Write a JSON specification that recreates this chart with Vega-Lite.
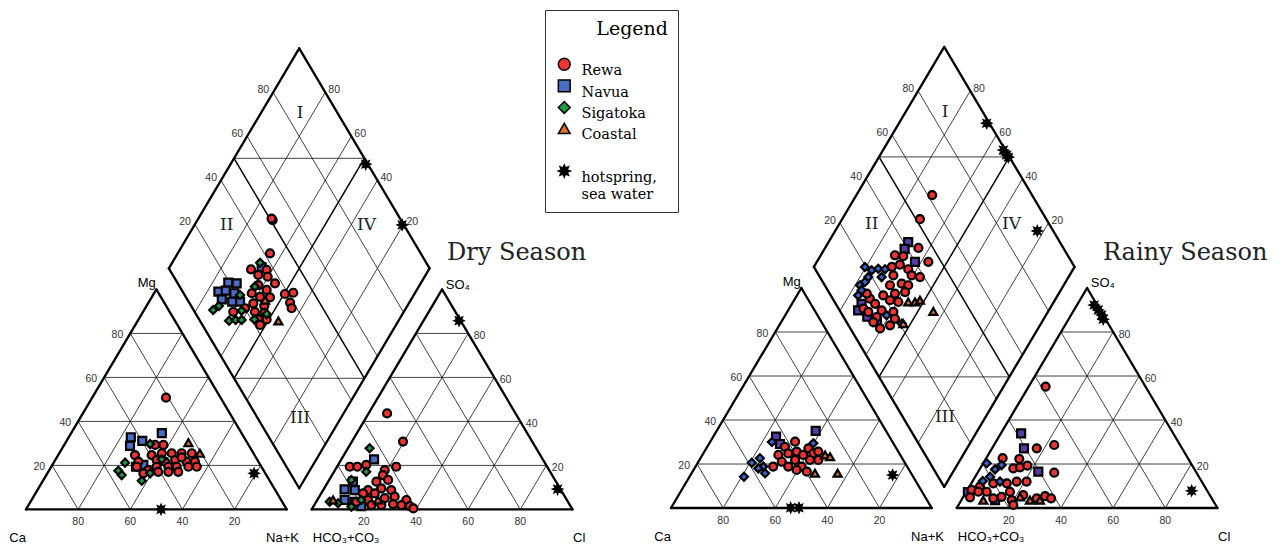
{
  "$schema": "https://vega.github.io/schema/vega-lite/v6.json",
  "width": 1287,
  "height": 548,
  "padding": 0,
  "autosize": {"type": "none"},
  "background": "white",
  "config": {"view": {"stroke": null}, "text": {"font": "Liberation Sans"}},
  "datasets": {
    "frame": [
      {"kind": "outline", "x": 0, "y": 0, "x2": 100, "y2": 0},
      {"kind": "outline", "x": 0, "y": 0, "x2": 50, "y2": 86.603},
      {"kind": "outline", "x": 100, "y": 0, "x2": 50, "y2": 86.603},
      {"kind": "outline", "x": 109.6, "y": 0, "x2": 209.6, "y2": 0},
      {"kind": "outline", "x": 109.6, "y": 0, "x2": 159.6, "y2": 86.603},
      {"kind": "outline", "x": 209.6, "y": 0, "x2": 159.6, "y2": 86.603},
      {"kind": "outline", "x": 104.8, "y": 8.314, "x2": 54.8, "y2": 94.917},
      {"kind": "outline", "x": 104.8, "y": 8.314, "x2": 154.8, "y2": 94.917},
      {"kind": "outline", "x": 54.8, "y": 94.917, "x2": 104.8, "y2": 181.52},
      {"kind": "outline", "x": 154.8, "y": 94.917, "x2": 104.8, "y2": 181.52},
      {"kind": "grid", "x": 10, "y": 17.321, "x2": 90, "y2": 17.321},
      {"kind": "grid", "x": 20, "y": 34.641, "x2": 80, "y2": 34.641},
      {"kind": "grid", "x": 30, "y": 51.962, "x2": 70, "y2": 51.962},
      {"kind": "grid", "x": 40, "y": 69.282, "x2": 60, "y2": 69.282},
      {"kind": "grid", "x": 20, "y": 0, "x2": 60, "y2": 69.282},
      {"kind": "grid", "x": 40, "y": 0, "x2": 70, "y2": 51.962},
      {"kind": "grid", "x": 60, "y": 0, "x2": 80, "y2": 34.641},
      {"kind": "grid", "x": 80, "y": 0, "x2": 90, "y2": 17.321},
      {"kind": "grid", "x": 80, "y": 0, "x2": 40, "y2": 69.282},
      {"kind": "grid", "x": 60, "y": 0, "x2": 30, "y2": 51.962},
      {"kind": "grid", "x": 40, "y": 0, "x2": 20, "y2": 34.641},
      {"kind": "grid", "x": 20, "y": 0, "x2": 10, "y2": 17.321},
      {"kind": "grid", "x": 119.6, "y": 17.321, "x2": 199.6, "y2": 17.321},
      {"kind": "grid", "x": 129.6, "y": 34.641, "x2": 189.6, "y2": 34.641},
      {"kind": "grid", "x": 139.6, "y": 51.962, "x2": 179.6, "y2": 51.962},
      {"kind": "grid", "x": 149.6, "y": 69.282, "x2": 169.6, "y2": 69.282},
      {"kind": "grid", "x": 129.6, "y": 0, "x2": 169.6, "y2": 69.282},
      {"kind": "grid", "x": 149.6, "y": 0, "x2": 179.6, "y2": 51.962},
      {"kind": "grid", "x": 169.6, "y": 0, "x2": 189.6, "y2": 34.641},
      {"kind": "grid", "x": 189.6, "y": 0, "x2": 199.6, "y2": 17.321},
      {"kind": "grid", "x": 189.6, "y": 0, "x2": 149.6, "y2": 69.282},
      {"kind": "grid", "x": 169.6, "y": 0, "x2": 139.6, "y2": 51.962},
      {"kind": "grid", "x": 149.6, "y": 0, "x2": 129.6, "y2": 34.641},
      {"kind": "grid", "x": 129.6, "y": 0, "x2": 119.6, "y2": 17.321},
      {"kind": "grid", "x": 64.8, "y": 77.596, "x2": 114.8, "y2": 164.199},
      {"kind": "grid", "x": 74.8, "y": 60.276, "x2": 124.8, "y2": 146.879},
      {"kind": "grid", "x": 84.8, "y": 42.955, "x2": 134.8, "y2": 129.558},
      {"kind": "grid", "x": 94.8, "y": 25.635, "x2": 144.8, "y2": 112.238},
      {"kind": "grid", "x": 64.8, "y": 112.238, "x2": 114.8, "y2": 25.635},
      {"kind": "grid", "x": 74.8, "y": 129.558, "x2": 124.8, "y2": 42.955},
      {"kind": "grid", "x": 84.8, "y": 146.879, "x2": 134.8, "y2": 60.276},
      {"kind": "grid", "x": 94.8, "y": 164.199, "x2": 144.8, "y2": 77.596},
      {"kind": "grid", "x": 79.8, "y": 138.219, "x2": 129.8, "y2": 138.219},
      {"kind": "grid", "x": 79.8, "y": 51.616, "x2": 129.8, "y2": 51.616},
      {"kind": "mid", "x": 79.8, "y": 51.616, "x2": 129.8, "y2": 138.219},
      {"kind": "mid", "x": 79.8, "y": 138.219, "x2": 129.8, "y2": 51.616}
    ],
    "ticks": [
      {"side": "cl", "x": 10, "y": 17.321, "text": "20"},
      {"side": "cl", "x": 20, "y": 34.641, "text": "40"},
      {"side": "cl", "x": 30, "y": 51.962, "text": "60"},
      {"side": "cl", "x": 40, "y": 69.282, "text": "80"},
      {"side": "b", "x": 20, "y": 0, "text": "80"},
      {"side": "b", "x": 40, "y": 0, "text": "60"},
      {"side": "b", "x": 60, "y": 0, "text": "40"},
      {"side": "b", "x": 80, "y": 0, "text": "20"},
      {"side": "b", "x": 129.6, "y": 0, "text": "20"},
      {"side": "b", "x": 149.6, "y": 0, "text": "40"},
      {"side": "b", "x": 169.6, "y": 0, "text": "60"},
      {"side": "b", "x": 189.6, "y": 0, "text": "80"},
      {"side": "ar", "x": 199.6, "y": 17.321, "text": "20"},
      {"side": "ar", "x": 189.6, "y": 34.641, "text": "40"},
      {"side": "ar", "x": 179.6, "y": 51.962, "text": "60"},
      {"side": "ar", "x": 169.6, "y": 69.282, "text": "80"},
      {"side": "dl", "x": 64.8, "y": 112.238, "text": "20"},
      {"side": "dl", "x": 74.8, "y": 129.558, "text": "40"},
      {"side": "dl", "x": 84.8, "y": 146.879, "text": "60"},
      {"side": "dl", "x": 94.8, "y": 164.199, "text": "80"},
      {"side": "dr", "x": 114.8, "y": 164.199, "text": "80"},
      {"side": "dr", "x": 124.8, "y": 146.879, "text": "60"},
      {"side": "dr", "x": 134.8, "y": 129.558, "text": "40"},
      {"side": "dr", "x": 144.8, "y": 112.238, "text": "20"}
    ],
    "corners": [
      {"anchor": "R", "x": 49.75, "y": 89.0, "text": "Mg"},
      {"anchor": "C", "x": -3.2, "y": -11.3, "text": "Ca"},
      {"anchor": "C", "x": 98.4, "y": -11.3, "text": "Na+K"},
      {"anchor": "L", "x": 110.0, "y": -11.3, "text": "HCO₃+CO₃"},
      {"anchor": "L", "x": 161.0, "y": 88.5, "text": "SO₄"},
      {"anchor": "C", "x": 212.2, "y": -11.3, "text": "Cl"}
    ],
    "zones": [
      {"x": 105.1, "y": 155.9, "text": "I"},
      {"x": 77.0, "y": 112.0, "text": "II"},
      {"x": 130.6, "y": 112.0, "text": "IV"},
      {"x": 105.1, "y": 35.8, "text": "III"}
    ],
    "titles": [
      {"season": "Dry", "x": 161.5, "y": 100.9, "text": "Dry Season"},
      {"season": "Rainy", "x": 165.7, "y": 100.4, "text": "Rainy Season"}
    ],
    "samples": [
      {"season": "Dry", "group": "Navua", "x": 90.4, "y": 95.3},
      {"season": "Dry", "group": "Navua", "x": 77.6, "y": 89.3},
      {"season": "Dry", "group": "Navua", "x": 80.8, "y": 89.0},
      {"season": "Dry", "group": "Navua", "x": 73.8, "y": 85.7},
      {"season": "Dry", "group": "Navua", "x": 76.6, "y": 86.1},
      {"season": "Dry", "group": "Navua", "x": 75.1, "y": 82.7},
      {"season": "Dry", "group": "Navua", "x": 82.1, "y": 81.8},
      {"season": "Dry", "group": "Navua", "x": 79.1, "y": 81.8},
      {"season": "Dry", "group": "Navua", "x": 79.9, "y": 85.1},
      {"season": "Dry", "group": "Navua", "x": 40.2, "y": 28.4},
      {"season": "Dry", "group": "Navua", "x": 44.6, "y": 27.0},
      {"season": "Dry", "group": "Navua", "x": 39.9, "y": 25.0},
      {"season": "Dry", "group": "Navua", "x": 52.1, "y": 30.0},
      {"season": "Dry", "group": "Navua", "x": 45.0, "y": 17.5},
      {"season": "Dry", "group": "Navua", "x": 42.2, "y": 16.8},
      {"season": "Dry", "group": "Navua", "x": 133.5, "y": 19.7},
      {"season": "Dry", "group": "Navua", "x": 122.2, "y": 7.9},
      {"season": "Dry", "group": "Navua", "x": 126.1, "y": 7.6},
      {"season": "Dry", "group": "Navua", "x": 122.2, "y": 3.7},
      {"season": "Dry", "group": "Navua", "x": 126.1, "y": 3.0},
      {"season": "Dry", "group": "Navua", "x": 128.6, "y": 1.3},
      {"season": "Dry", "group": "Navua", "x": 125.4, "y": 10.9},
      {"season": "Dry", "group": "Rewa", "x": 93.6, "y": 100.8},
      {"season": "Dry", "group": "Rewa", "x": 86.3, "y": 94.5},
      {"season": "Dry", "group": "Rewa", "x": 92.3, "y": 94.3},
      {"season": "Dry", "group": "Rewa", "x": 89.1, "y": 92.3},
      {"season": "Dry", "group": "Rewa", "x": 92.7, "y": 91.6},
      {"season": "Dry", "group": "Rewa", "x": 95.5, "y": 89.0},
      {"season": "Dry", "group": "Rewa", "x": 89.1, "y": 88.3},
      {"season": "Dry", "group": "Rewa", "x": 92.3, "y": 86.4},
      {"season": "Dry", "group": "Rewa", "x": 99.3, "y": 84.8},
      {"season": "Dry", "group": "Rewa", "x": 102.5, "y": 85.3},
      {"season": "Dry", "group": "Rewa", "x": 89.8, "y": 83.7},
      {"season": "Dry", "group": "Rewa", "x": 93.6, "y": 83.5},
      {"season": "Dry", "group": "Rewa", "x": 101.3, "y": 81.4},
      {"season": "Dry", "group": "Rewa", "x": 101.9, "y": 79.2},
      {"season": "Dry", "group": "Rewa", "x": 87.2, "y": 81.1},
      {"season": "Dry", "group": "Rewa", "x": 91.4, "y": 80.1},
      {"season": "Dry", "group": "Rewa", "x": 79.5, "y": 77.8},
      {"season": "Dry", "group": "Rewa", "x": 87.8, "y": 77.8},
      {"season": "Dry", "group": "Rewa", "x": 91.4, "y": 77.4},
      {"season": "Dry", "group": "Rewa", "x": 89.1, "y": 74.8},
      {"season": "Dry", "group": "Rewa", "x": 92.3, "y": 74.8},
      {"season": "Dry", "group": "Rewa", "x": 89.8, "y": 72.6},
      {"season": "Dry", "group": "Rewa", "x": 84.0, "y": 79.2},
      {"season": "Dry", "group": "Rewa", "x": 86.6, "y": 85.1},
      {"season": "Dry", "group": "Rewa", "x": 94.6, "y": 113.9},
      {"season": "Dry", "group": "Rewa", "x": 94.2, "y": 114.5},
      {"season": "Dry", "group": "Rewa", "x": 49.5, "y": 25.4},
      {"season": "Dry", "group": "Rewa", "x": 52.7, "y": 25.4},
      {"season": "Dry", "group": "Rewa", "x": 41.8, "y": 21.4},
      {"season": "Dry", "group": "Rewa", "x": 48.2, "y": 21.4},
      {"season": "Dry", "group": "Rewa", "x": 52.1, "y": 22.1},
      {"season": "Dry", "group": "Rewa", "x": 55.9, "y": 22.1},
      {"season": "Dry", "group": "Rewa", "x": 59.7, "y": 22.1},
      {"season": "Dry", "group": "Rewa", "x": 63.6, "y": 22.1},
      {"season": "Dry", "group": "Rewa", "x": 43.1, "y": 18.8},
      {"season": "Dry", "group": "Rewa", "x": 50.1, "y": 19.4},
      {"season": "Dry", "group": "Rewa", "x": 53.3, "y": 18.8},
      {"season": "Dry", "group": "Rewa", "x": 57.2, "y": 19.4},
      {"season": "Dry", "group": "Rewa", "x": 61.6, "y": 18.8},
      {"season": "Dry", "group": "Rewa", "x": 64.8, "y": 18.8},
      {"season": "Dry", "group": "Rewa", "x": 42.5, "y": 16.8},
      {"season": "Dry", "group": "Rewa", "x": 50.1, "y": 16.8},
      {"season": "Dry", "group": "Rewa", "x": 54.6, "y": 16.8},
      {"season": "Dry", "group": "Rewa", "x": 57.8, "y": 16.8},
      {"season": "Dry", "group": "Rewa", "x": 62.3, "y": 16.8},
      {"season": "Dry", "group": "Rewa", "x": 65.5, "y": 16.8},
      {"season": "Dry", "group": "Rewa", "x": 46.9, "y": 15.5},
      {"season": "Dry", "group": "Rewa", "x": 50.7, "y": 14.8},
      {"season": "Dry", "group": "Rewa", "x": 54.6, "y": 14.8},
      {"season": "Dry", "group": "Rewa", "x": 58.4, "y": 14.8},
      {"season": "Dry", "group": "Rewa", "x": 45.0, "y": 14.2},
      {"season": "Dry", "group": "Rewa", "x": 59.7, "y": 20.5},
      {"season": "Dry", "group": "Rewa", "x": 53.7, "y": 44.0},
      {"season": "Dry", "group": "Rewa", "x": 138.5, "y": 37.8},
      {"season": "Dry", "group": "Rewa", "x": 144.6, "y": 26.7},
      {"season": "Dry", "group": "Rewa", "x": 124.2, "y": 16.8},
      {"season": "Dry", "group": "Rewa", "x": 127.1, "y": 16.8},
      {"season": "Dry", "group": "Rewa", "x": 130.5, "y": 17.5},
      {"season": "Dry", "group": "Rewa", "x": 137.6, "y": 15.5},
      {"season": "Dry", "group": "Rewa", "x": 142.0, "y": 16.8},
      {"season": "Dry", "group": "Rewa", "x": 136.9, "y": 13.5},
      {"season": "Dry", "group": "Rewa", "x": 138.9, "y": 11.6},
      {"season": "Dry", "group": "Rewa", "x": 134.4, "y": 10.9},
      {"season": "Dry", "group": "Rewa", "x": 136.3, "y": 8.3},
      {"season": "Dry", "group": "Rewa", "x": 131.2, "y": 7.6},
      {"season": "Dry", "group": "Rewa", "x": 129.3, "y": 6.3},
      {"season": "Dry", "group": "Rewa", "x": 133.8, "y": 6.3},
      {"season": "Dry", "group": "Rewa", "x": 140.1, "y": 7.6},
      {"season": "Dry", "group": "Rewa", "x": 141.4, "y": 5.0},
      {"season": "Dry", "group": "Rewa", "x": 137.6, "y": 4.4},
      {"season": "Dry", "group": "Rewa", "x": 131.2, "y": 3.7},
      {"season": "Dry", "group": "Rewa", "x": 126.7, "y": 3.0},
      {"season": "Dry", "group": "Rewa", "x": 145.9, "y": 3.7},
      {"season": "Dry", "group": "Rewa", "x": 144.0, "y": 1.7},
      {"season": "Dry", "group": "Rewa", "x": 147.2, "y": 1.3},
      {"season": "Dry", "group": "Rewa", "x": 140.8, "y": 2.1},
      {"season": "Dry", "group": "Rewa", "x": 136.3, "y": 1.7},
      {"season": "Dry", "group": "Rewa", "x": 132.5, "y": 1.7},
      {"season": "Dry", "group": "Rewa", "x": 148.6, "y": 0.4},
      {"season": "Dry", "group": "Sigatoka", "x": 89.8, "y": 97.1},
      {"season": "Dry", "group": "Sigatoka", "x": 87.8, "y": 87.7},
      {"season": "Dry", "group": "Sigatoka", "x": 82.1, "y": 84.4},
      {"season": "Dry", "group": "Sigatoka", "x": 71.8, "y": 78.5},
      {"season": "Dry", "group": "Sigatoka", "x": 74.0, "y": 80.1},
      {"season": "Dry", "group": "Sigatoka", "x": 82.7, "y": 78.2},
      {"season": "Dry", "group": "Sigatoka", "x": 77.9, "y": 74.3},
      {"season": "Dry", "group": "Sigatoka", "x": 80.4, "y": 74.6},
      {"season": "Dry", "group": "Sigatoka", "x": 82.7, "y": 74.6},
      {"season": "Dry", "group": "Sigatoka", "x": 87.6, "y": 74.8},
      {"season": "Dry", "group": "Sigatoka", "x": 92.3, "y": 76.9},
      {"season": "Dry", "group": "Sigatoka", "x": 38.0, "y": 18.4},
      {"season": "Dry", "group": "Sigatoka", "x": 35.4, "y": 15.2},
      {"season": "Dry", "group": "Sigatoka", "x": 36.7, "y": 13.5},
      {"season": "Dry", "group": "Sigatoka", "x": 44.4, "y": 11.3},
      {"season": "Dry", "group": "Sigatoka", "x": 47.6, "y": 25.7},
      {"season": "Dry", "group": "Sigatoka", "x": 52.1, "y": 19.7},
      {"season": "Dry", "group": "Sigatoka", "x": 47.6, "y": 14.2},
      {"season": "Dry", "group": "Sigatoka", "x": 131.8, "y": 24.1},
      {"season": "Dry", "group": "Sigatoka", "x": 130.5, "y": 14.8},
      {"season": "Dry", "group": "Sigatoka", "x": 124.8, "y": 11.6},
      {"season": "Dry", "group": "Sigatoka", "x": 116.5, "y": 3.0},
      {"season": "Dry", "group": "Sigatoka", "x": 119.7, "y": 2.4},
      {"season": "Dry", "group": "Sigatoka", "x": 128.6, "y": 3.7},
      {"season": "Dry", "group": "Sigatoka", "x": 124.8, "y": 1.1},
      {"season": "Dry", "group": "Coastal", "x": 96.8, "y": 74.2},
      {"season": "Dry", "group": "Coastal", "x": 91.7, "y": 82.4},
      {"season": "Dry", "group": "Coastal", "x": 62.3, "y": 26.3},
      {"season": "Dry", "group": "Coastal", "x": 66.7, "y": 22.1},
      {"season": "Dry", "group": "Coastal", "x": 117.8, "y": 3.7},
      {"season": "Dry", "group": "Coastal", "x": 135.0, "y": 3.7},
      {"season": "Dry", "group": "hotspring, sea water", "x": 130.3, "y": 135.9},
      {"season": "Dry", "group": "hotspring, sea water", "x": 144.3, "y": 112.0},
      {"season": "Dry", "group": "hotspring, sea water", "x": 87.5, "y": 14.2},
      {"season": "Dry", "group": "hotspring, sea water", "x": 51.8, "y": 0.0},
      {"season": "Dry", "group": "hotspring, sea water", "x": 166.1, "y": 74.3},
      {"season": "Dry", "group": "hotspring, sea water", "x": 203.9, "y": 8.0},
      {"season": "Rainy", "group": "Navua", "x": 91.0, "y": 104.7},
      {"season": "Rainy", "group": "Navua", "x": 89.6, "y": 102.0},
      {"season": "Rainy", "group": "Navua", "x": 93.6, "y": 96.9},
      {"season": "Rainy", "group": "Navua", "x": 73.1, "y": 80.4},
      {"season": "Rainy", "group": "Navua", "x": 71.8, "y": 77.8},
      {"season": "Rainy", "group": "Navua", "x": 75.3, "y": 75.3},
      {"season": "Rainy", "group": "Navua", "x": 79.0, "y": 73.2},
      {"season": "Rainy", "group": "Navua", "x": 55.5, "y": 30.4},
      {"season": "Rainy", "group": "Navua", "x": 40.3, "y": 28.1},
      {"season": "Rainy", "group": "Navua", "x": 41.8, "y": 25.2},
      {"season": "Rainy", "group": "Navua", "x": 134.3, "y": 29.4},
      {"season": "Rainy", "group": "Navua", "x": 135.4, "y": 23.5},
      {"season": "Rainy", "group": "Navua", "x": 140.9, "y": 14.3},
      {"season": "Rainy", "group": "Navua", "x": 124.3, "y": 3.1},
      {"season": "Rainy", "group": "Navua", "x": 113.9, "y": 6.3},
      {"season": "Rainy", "group": "Rewa", "x": 100.2, "y": 123.2},
      {"season": "Rainy", "group": "Rewa", "x": 95.5, "y": 113.7},
      {"season": "Rainy", "group": "Rewa", "x": 94.9, "y": 102.4},
      {"season": "Rainy", "group": "Rewa", "x": 85.9, "y": 99.5},
      {"season": "Rainy", "group": "Rewa", "x": 89.1, "y": 99.2},
      {"season": "Rainy", "group": "Rewa", "x": 98.7, "y": 96.9},
      {"season": "Rainy", "group": "Rewa", "x": 87.8, "y": 95.8},
      {"season": "Rainy", "group": "Rewa", "x": 84.7, "y": 94.9},
      {"season": "Rainy", "group": "Rewa", "x": 91.0, "y": 94.0},
      {"season": "Rainy", "group": "Rewa", "x": 85.3, "y": 91.6},
      {"season": "Rainy", "group": "Rewa", "x": 92.3, "y": 91.6},
      {"season": "Rainy", "group": "Rewa", "x": 95.5, "y": 90.9},
      {"season": "Rainy", "group": "Rewa", "x": 88.5, "y": 88.3},
      {"season": "Rainy", "group": "Rewa", "x": 91.0, "y": 87.7},
      {"season": "Rainy", "group": "Rewa", "x": 84.0, "y": 87.7},
      {"season": "Rainy", "group": "Rewa", "x": 85.9, "y": 84.4},
      {"season": "Rainy", "group": "Rewa", "x": 89.8, "y": 85.0},
      {"season": "Rainy", "group": "Rewa", "x": 81.4, "y": 83.7},
      {"season": "Rainy", "group": "Rewa", "x": 84.0, "y": 81.8},
      {"season": "Rainy", "group": "Rewa", "x": 76.3, "y": 82.4},
      {"season": "Rainy", "group": "Rewa", "x": 78.3, "y": 80.4},
      {"season": "Rainy", "group": "Rewa", "x": 87.2, "y": 81.1},
      {"season": "Rainy", "group": "Rewa", "x": 73.8, "y": 78.5},
      {"season": "Rainy", "group": "Rewa", "x": 80.8, "y": 77.8},
      {"season": "Rainy", "group": "Rewa", "x": 75.7, "y": 77.2},
      {"season": "Rainy", "group": "Rewa", "x": 78.9, "y": 75.2},
      {"season": "Rainy", "group": "Rewa", "x": 85.3, "y": 77.2},
      {"season": "Rainy", "group": "Rewa", "x": 85.9, "y": 74.5},
      {"season": "Rainy", "group": "Rewa", "x": 77.6, "y": 73.2},
      {"season": "Rainy", "group": "Rewa", "x": 84.0, "y": 71.9},
      {"season": "Rainy", "group": "Rewa", "x": 75.1, "y": 84.4},
      {"season": "Rainy", "group": "Rewa", "x": 80.2, "y": 70.7},
      {"season": "Rainy", "group": "Rewa", "x": 43.7, "y": 24.1},
      {"season": "Rainy", "group": "Rewa", "x": 47.6, "y": 26.1},
      {"season": "Rainy", "group": "Rewa", "x": 52.7, "y": 23.5},
      {"season": "Rainy", "group": "Rewa", "x": 41.2, "y": 20.9},
      {"season": "Rainy", "group": "Rewa", "x": 45.0, "y": 21.5},
      {"season": "Rainy", "group": "Rewa", "x": 48.2, "y": 22.2},
      {"season": "Rainy", "group": "Rewa", "x": 50.7, "y": 20.9},
      {"season": "Rainy", "group": "Rewa", "x": 54.6, "y": 21.5},
      {"season": "Rainy", "group": "Rewa", "x": 56.5, "y": 22.2},
      {"season": "Rainy", "group": "Rewa", "x": 39.2, "y": 16.3},
      {"season": "Rainy", "group": "Rewa", "x": 45.0, "y": 16.3},
      {"season": "Rainy", "group": "Rewa", "x": 47.6, "y": 18.9},
      {"season": "Rainy", "group": "Rewa", "x": 50.1, "y": 16.3},
      {"season": "Rainy", "group": "Rewa", "x": 52.1, "y": 14.3},
      {"season": "Rainy", "group": "Rewa", "x": 48.2, "y": 15.0},
      {"season": "Rainy", "group": "Rewa", "x": 53.3, "y": 18.9},
      {"season": "Rainy", "group": "Rewa", "x": 56.5, "y": 18.9},
      {"season": "Rainy", "group": "Rewa", "x": 42.5, "y": 18.2},
      {"season": "Rainy", "group": "Rewa", "x": 143.7, "y": 47.8},
      {"season": "Rainy", "group": "Rewa", "x": 140.3, "y": 23.5},
      {"season": "Rainy", "group": "Rewa", "x": 147.0, "y": 24.8},
      {"season": "Rainy", "group": "Rewa", "x": 147.0, "y": 13.9},
      {"season": "Rainy", "group": "Rewa", "x": 127.2, "y": 19.6},
      {"season": "Rainy", "group": "Rewa", "x": 133.6, "y": 19.3},
      {"season": "Rainy", "group": "Rewa", "x": 131.3, "y": 15.6},
      {"season": "Rainy", "group": "Rewa", "x": 133.9, "y": 16.0},
      {"season": "Rainy", "group": "Rewa", "x": 136.7, "y": 16.7},
      {"season": "Rainy", "group": "Rewa", "x": 136.4, "y": 10.4},
      {"season": "Rainy", "group": "Rewa", "x": 132.6, "y": 10.4},
      {"season": "Rainy", "group": "Rewa", "x": 128.8, "y": 9.7},
      {"season": "Rainy", "group": "Rewa", "x": 123.6, "y": 9.7},
      {"season": "Rainy", "group": "Rewa", "x": 118.5, "y": 8.4},
      {"season": "Rainy", "group": "Rewa", "x": 115.3, "y": 7.1},
      {"season": "Rainy", "group": "Rewa", "x": 117.9, "y": 6.4},
      {"season": "Rainy", "group": "Rewa", "x": 121.1, "y": 6.4},
      {"season": "Rainy", "group": "Rewa", "x": 123.6, "y": 3.8},
      {"season": "Rainy", "group": "Rewa", "x": 114.7, "y": 4.2},
      {"season": "Rainy", "group": "Rewa", "x": 130.0, "y": 6.4},
      {"season": "Rainy", "group": "Rewa", "x": 130.7, "y": 3.1},
      {"season": "Rainy", "group": "Rewa", "x": 131.3, "y": 1.2},
      {"season": "Rainy", "group": "Rewa", "x": 135.1, "y": 5.1},
      {"season": "Rainy", "group": "Rewa", "x": 140.3, "y": 3.8},
      {"season": "Rainy", "group": "Rewa", "x": 143.5, "y": 4.7},
      {"season": "Rainy", "group": "Rewa", "x": 145.8, "y": 3.8},
      {"season": "Rainy", "group": "Rewa", "x": 126.8, "y": 4.4},
      {"season": "Rainy", "group": "Sigatoka", "x": 74.4, "y": 94.9},
      {"season": "Rainy", "group": "Sigatoka", "x": 77.0, "y": 93.6},
      {"season": "Rainy", "group": "Sigatoka", "x": 79.5, "y": 94.2},
      {"season": "Rainy", "group": "Sigatoka", "x": 82.1, "y": 94.0},
      {"season": "Rainy", "group": "Sigatoka", "x": 80.8, "y": 90.9},
      {"season": "Rainy", "group": "Sigatoka", "x": 75.7, "y": 90.9},
      {"season": "Rainy", "group": "Sigatoka", "x": 72.5, "y": 87.7},
      {"season": "Rainy", "group": "Sigatoka", "x": 74.4, "y": 89.0},
      {"season": "Rainy", "group": "Sigatoka", "x": 71.8, "y": 83.7},
      {"season": "Rainy", "group": "Sigatoka", "x": 73.1, "y": 85.7},
      {"season": "Rainy", "group": "Sigatoka", "x": 82.7, "y": 75.9},
      {"season": "Rainy", "group": "Sigatoka", "x": 88.5, "y": 72.6},
      {"season": "Rainy", "group": "Sigatoka", "x": 31.0, "y": 17.8},
      {"season": "Rainy", "group": "Sigatoka", "x": 34.1, "y": 19.6},
      {"season": "Rainy", "group": "Sigatoka", "x": 35.4, "y": 16.3},
      {"season": "Rainy", "group": "Sigatoka", "x": 33.5, "y": 15.6},
      {"season": "Rainy", "group": "Sigatoka", "x": 36.1, "y": 13.7},
      {"season": "Rainy", "group": "Sigatoka", "x": 28.0, "y": 12.3},
      {"season": "Rainy", "group": "Sigatoka", "x": 54.6, "y": 25.5},
      {"season": "Rainy", "group": "Sigatoka", "x": 38.7, "y": 26.0},
      {"season": "Rainy", "group": "Sigatoka", "x": 121.1, "y": 17.6},
      {"season": "Rainy", "group": "Sigatoka", "x": 124.3, "y": 15.2},
      {"season": "Rainy", "group": "Sigatoka", "x": 126.8, "y": 16.9},
      {"season": "Rainy", "group": "Sigatoka", "x": 122.4, "y": 12.3},
      {"season": "Rainy", "group": "Sigatoka", "x": 119.6, "y": 10.6},
      {"season": "Rainy", "group": "Sigatoka", "x": 126.2, "y": 10.4},
      {"season": "Rainy", "group": "Coastal", "x": 91.0, "y": 81.1},
      {"season": "Rainy", "group": "Coastal", "x": 93.6, "y": 81.1},
      {"season": "Rainy", "group": "Coastal", "x": 95.5, "y": 81.8},
      {"season": "Rainy", "group": "Coastal", "x": 89.1, "y": 72.6},
      {"season": "Rainy", "group": "Coastal", "x": 100.6, "y": 77.4},
      {"season": "Rainy", "group": "Coastal", "x": 59.1, "y": 20.9},
      {"season": "Rainy", "group": "Coastal", "x": 61.0, "y": 20.2},
      {"season": "Rainy", "group": "Coastal", "x": 55.2, "y": 13.7},
      {"season": "Rainy", "group": "Coastal", "x": 63.9, "y": 13.7},
      {"season": "Rainy", "group": "Coastal", "x": 133.9, "y": 4.4},
      {"season": "Rainy", "group": "Coastal", "x": 137.7, "y": 3.1},
      {"season": "Rainy", "group": "Coastal", "x": 119.8, "y": 3.1},
      {"season": "Rainy", "group": "Coastal", "x": 141.5, "y": 3.1},
      {"season": "Rainy", "group": "hotspring, sea water", "x": 121.1, "y": 151.5},
      {"season": "Rainy", "group": "hotspring, sea water", "x": 127.5, "y": 140.9},
      {"season": "Rainy", "group": "hotspring, sea water", "x": 128.8, "y": 139.0},
      {"season": "Rainy", "group": "hotspring, sea water", "x": 129.4, "y": 138.1},
      {"season": "Rainy", "group": "hotspring, sea water", "x": 140.5, "y": 109.1},
      {"season": "Rainy", "group": "hotspring, sea water", "x": 85.0, "y": 13.0},
      {"season": "Rainy", "group": "hotspring, sea water", "x": 45.9, "y": 0.1},
      {"season": "Rainy", "group": "hotspring, sea water", "x": 49.1, "y": 0.1},
      {"season": "Rainy", "group": "hotspring, sea water", "x": 162.3, "y": 79.9},
      {"season": "Rainy", "group": "hotspring, sea water", "x": 163.9, "y": 78.0},
      {"season": "Rainy", "group": "hotspring, sea water", "x": 165.2, "y": 76.0},
      {"season": "Rainy", "group": "hotspring, sea water", "x": 165.8, "y": 74.3},
      {"season": "Rainy", "group": "hotspring, sea water", "x": 199.7, "y": 6.8}
    ]
  },
  "layer": [
    {
      "encoding": {
        "x": {"field": "x", "type": "quantitative", "axis": null, "scale": {"domain": [-9.973, 483.69], "nice": false, "zero": false}},
        "y": {"field": "y", "type": "quantitative", "axis": null, "scale": {"domain": [-15.197, 200.55], "nice": false, "zero": false}}
      },
      "layer": [
        {"data": {"name": "frame"}, "transform": [{"filter": "datum.kind === 'grid'"}], "mark": {"type": "rule", "stroke": "#111111", "strokeWidth": 0.8}, "encoding": {"x2": {"field": "x2"}, "y2": {"field": "y2"}}},
        {"data": {"name": "frame"}, "transform": [{"filter": "datum.kind === 'mid'"}], "mark": {"type": "rule", "stroke": "black", "strokeWidth": 1.5}, "encoding": {"x2": {"field": "x2"}, "y2": {"field": "y2"}}},
        {"data": {"name": "frame"}, "transform": [{"filter": "datum.kind === 'outline'"}], "mark": {"type": "rule", "stroke": "black", "strokeWidth": 2.3, "strokeCap": "round"}, "encoding": {"x2": {"field": "x2"}, "y2": {"field": "y2"}}},
        {"data": {"name": "ticks"}, "transform": [{"filter": "datum.side === 'cl'"}], "mark": {"type": "text", "align": "right", "baseline": "middle", "dx": -7, "dy": 2, "fontSize": 10.5, "color": "#333333"}, "encoding": {"text": {"field": "text"}}},
        {"data": {"name": "ticks"}, "transform": [{"filter": "datum.side === 'b'"}], "mark": {"type": "text", "align": "center", "baseline": "middle", "dy": 13, "fontSize": 10.5, "color": "#333333"}, "encoding": {"text": {"field": "text"}}},
        {"data": {"name": "ticks"}, "transform": [{"filter": "datum.side === 'ar'"}], "mark": {"type": "text", "align": "left", "baseline": "middle", "dx": 5.5, "dy": 2.5, "fontSize": 10.5, "color": "#333333"}, "encoding": {"text": {"field": "text"}}},
        {"data": {"name": "ticks"}, "transform": [{"filter": "datum.side === 'dl'"}], "mark": {"type": "text", "align": "right", "baseline": "middle", "dx": -4, "dy": -2, "fontSize": 10.5, "color": "#333333"}, "encoding": {"text": {"field": "text"}}},
        {"data": {"name": "ticks"}, "transform": [{"filter": "datum.side === 'dr'"}], "mark": {"type": "text", "align": "left", "baseline": "middle", "dx": 3, "dy": -2, "fontSize": 10.5, "color": "#333333"}, "encoding": {"text": {"field": "text"}}},
        {"data": {"name": "corners"}, "transform": [{"filter": "datum.anchor === 'R'"}], "mark": {"type": "text", "align": "right", "baseline": "middle", "fontSize": 13, "color": "black"}, "encoding": {"text": {"field": "text"}}},
        {"data": {"name": "corners"}, "transform": [{"filter": "datum.anchor === 'L'"}], "mark": {"type": "text", "align": "left", "baseline": "middle", "fontSize": 13, "color": "black"}, "encoding": {"text": {"field": "text"}}},
        {"data": {"name": "corners"}, "transform": [{"filter": "datum.anchor === 'C'"}], "mark": {"type": "text", "align": "center", "baseline": "middle", "fontSize": 13, "color": "black"}, "encoding": {"text": {"field": "text"}}},
        {"data": {"name": "zones"}, "mark": {"type": "text", "align": "center", "baseline": "middle", "font": "DejaVu Serif", "fontSize": 17, "color": "#222222"}, "encoding": {"text": {"field": "text"}}},
        {"data": {"name": "titles"}, "transform": [{"filter": "datum.season === 'Dry'"}], "mark": {"type": "text", "align": "left", "baseline": "middle", "font": "DejaVu Serif", "fontSize": 24, "color": "#222222"}, "encoding": {"text": {"field": "text"}}},
        {
          "data": {"name": "samples"},
          "transform": [{"filter": "datum.season === 'Dry'"}],
          "mark": {"type": "point", "filled": true, "stroke": "black", "strokeWidth": 2.2, "size": 64, "opacity": 1},
          "encoding": {
            "fill": {
              "field": "group", "type": "nominal",
              "scale": {"domain": ["Rewa", "Navua", "Sigatoka", "Coastal", " ", "hotspring, sea water"], "range": ["#ee3333", "#4a6cc4", "#1f9a46", "#e0701c", "transparent", "black"]},
              "legend": {"title": "Legend", "orient": "none", "legendX": 545, "legendY": 10, "padding": 10, "strokeColor": "#333333", "fillColor": "white", "titleFont": "DejaVu Serif", "titleFontSize": 19, "titleFontWeight": "normal", "titleColor": "black", "titleAnchor": "end", "titlePadding": 18, "labelFont": "DejaVu Serif", "labelFontSize": 14.5, "labelColor": "black", "labelBaseline": "top", "labelLimit": 300, "labelOffset": 10, "symbolOffset": 2, "symbolSize": 140, "rowPadding": -1.4, "labelExpr": "datum.label === 'hotspring, sea water' ? ['hotspring,\u2800', 'sea water'] : datum.label", "encode": {"symbols": {"update": {"stroke": {"value": "black"}, "strokeWidth": {"value": 2.4}}}, "labels": {"update": {"dy": {"value": -6}}}}}
            },
            "shape": {
              "field": "group", "type": "nominal",
              "scale": {"domain": ["Rewa", "Navua", "Sigatoka", "Coastal", " ", "hotspring, sea water"], "range": ["circle", "square", "diamond", "triangle-up", "M0,0", "M0,-1L0.21,-0.508L0.707,-0.707L0.508,-0.21L1,0L0.508,0.21L0.707,0.707L0.21,0.508L0,1L-0.21,0.508L-0.707,0.707L-0.508,0.21L-1,0L-0.508,-0.21L-0.707,-0.707L-0.21,-0.508Z"]},
              "legend": {"title": "Legend", "orient": "none", "legendX": 545, "legendY": 10, "padding": 10, "strokeColor": "#333333", "fillColor": "white", "titleFont": "DejaVu Serif", "titleFontSize": 19, "titleFontWeight": "normal", "titleColor": "black", "titleAnchor": "end", "titlePadding": 18, "labelFont": "DejaVu Serif", "labelFontSize": 14.5, "labelColor": "black", "labelBaseline": "top", "labelLimit": 300, "labelOffset": 10, "symbolOffset": 2, "symbolSize": 140, "rowPadding": -1.4, "labelExpr": "datum.label === 'hotspring, sea water' ? ['hotspring,\u2800', 'sea water'] : datum.label", "encode": {"symbols": {"update": {"stroke": {"value": "black"}, "strokeWidth": {"value": 2.4}}}, "labels": {"update": {"dy": {"value": -6}}}}}
            }
          }
        }
      ]
    },
    {
      "encoding": {
        "x": {"field": "x", "type": "quantitative", "axis": null, "scale": {"domain": [-257.38, 236.29], "nice": false, "zero": false}},
        "y": {"field": "y", "type": "quantitative", "axis": null, "scale": {"domain": [-15.748, 200.0], "nice": false, "zero": false}}
      },
      "layer": [
        {"data": {"name": "frame"}, "transform": [{"filter": "datum.kind === 'grid'"}], "mark": {"type": "rule", "stroke": "#111111", "strokeWidth": 0.8}, "encoding": {"x2": {"field": "x2"}, "y2": {"field": "y2"}}},
        {"data": {"name": "frame"}, "transform": [{"filter": "datum.kind === 'mid'"}], "mark": {"type": "rule", "stroke": "black", "strokeWidth": 1.5}, "encoding": {"x2": {"field": "x2"}, "y2": {"field": "y2"}}},
        {"data": {"name": "frame"}, "transform": [{"filter": "datum.kind === 'outline'"}], "mark": {"type": "rule", "stroke": "black", "strokeWidth": 2.3, "strokeCap": "round"}, "encoding": {"x2": {"field": "x2"}, "y2": {"field": "y2"}}},
        {"data": {"name": "ticks"}, "transform": [{"filter": "datum.side === 'cl'"}], "mark": {"type": "text", "align": "right", "baseline": "middle", "dx": -7, "dy": 2, "fontSize": 10.5, "color": "#333333"}, "encoding": {"text": {"field": "text"}}},
        {"data": {"name": "ticks"}, "transform": [{"filter": "datum.side === 'b'"}], "mark": {"type": "text", "align": "center", "baseline": "middle", "dy": 13, "fontSize": 10.5, "color": "#333333"}, "encoding": {"text": {"field": "text"}}},
        {"data": {"name": "ticks"}, "transform": [{"filter": "datum.side === 'ar'"}], "mark": {"type": "text", "align": "left", "baseline": "middle", "dx": 5.5, "dy": 2.5, "fontSize": 10.5, "color": "#333333"}, "encoding": {"text": {"field": "text"}}},
        {"data": {"name": "ticks"}, "transform": [{"filter": "datum.side === 'dl'"}], "mark": {"type": "text", "align": "right", "baseline": "middle", "dx": -4, "dy": -2, "fontSize": 10.5, "color": "#333333"}, "encoding": {"text": {"field": "text"}}},
        {"data": {"name": "ticks"}, "transform": [{"filter": "datum.side === 'dr'"}], "mark": {"type": "text", "align": "left", "baseline": "middle", "dx": 3, "dy": -2, "fontSize": 10.5, "color": "#333333"}, "encoding": {"text": {"field": "text"}}},
        {"data": {"name": "corners"}, "transform": [{"filter": "datum.anchor === 'R'"}], "mark": {"type": "text", "align": "right", "baseline": "middle", "fontSize": 13, "color": "black"}, "encoding": {"text": {"field": "text"}}},
        {"data": {"name": "corners"}, "transform": [{"filter": "datum.anchor === 'L'"}], "mark": {"type": "text", "align": "left", "baseline": "middle", "fontSize": 13, "color": "black"}, "encoding": {"text": {"field": "text"}}},
        {"data": {"name": "corners"}, "transform": [{"filter": "datum.anchor === 'C'"}], "mark": {"type": "text", "align": "center", "baseline": "middle", "fontSize": 13, "color": "black"}, "encoding": {"text": {"field": "text"}}},
        {"data": {"name": "zones"}, "mark": {"type": "text", "align": "center", "baseline": "middle", "font": "DejaVu Serif", "fontSize": 17, "color": "#222222"}, "encoding": {"text": {"field": "text"}}},
        {"data": {"name": "titles"}, "transform": [{"filter": "datum.season === 'Rainy'"}], "mark": {"type": "text", "align": "left", "baseline": "middle", "font": "DejaVu Serif", "fontSize": 24, "color": "#222222"}, "encoding": {"text": {"field": "text"}}},
        {
          "data": {"name": "samples"},
          "transform": [{"filter": "datum.season === 'Rainy'"}],
          "mark": {"type": "point", "filled": true, "stroke": "black", "strokeWidth": 2.2, "size": 64, "opacity": 1},
          "encoding": {
            "fill": {
              "condition": [{"test": "datum.group === 'Navua'", "value": "#5a3ca8"}, {"test": "datum.group === 'Sigatoka'", "value": "#3a64d0"}],
              "field": "group", "type": "nominal",
              "scale": {"domain": ["Rewa", "Navua", "Sigatoka", "Coastal", " ", "hotspring, sea water"], "range": ["#ee3333", "#4a6cc4", "#1f9a46", "#e0701c", "transparent", "black"]},
              "legend": {"title": "Legend", "orient": "none", "legendX": 545, "legendY": 10, "padding": 10, "strokeColor": "#333333", "fillColor": "white", "titleFont": "DejaVu Serif", "titleFontSize": 19, "titleFontWeight": "normal", "titleColor": "black", "titleAnchor": "end", "titlePadding": 18, "labelFont": "DejaVu Serif", "labelFontSize": 14.5, "labelColor": "black", "labelBaseline": "top", "labelLimit": 300, "labelOffset": 10, "symbolOffset": 2, "symbolSize": 140, "rowPadding": -1.4, "labelExpr": "datum.label === 'hotspring, sea water' ? ['hotspring,\u2800', 'sea water'] : datum.label", "encode": {"symbols": {"update": {"stroke": {"value": "black"}, "strokeWidth": {"value": 2.4}}}, "labels": {"update": {"dy": {"value": -6}}}}}
            },
            "shape": {
              "field": "group", "type": "nominal",
              "scale": {"domain": ["Rewa", "Navua", "Sigatoka", "Coastal", " ", "hotspring, sea water"], "range": ["circle", "square", "diamond", "triangle-up", "M0,0", "M0,-1L0.21,-0.508L0.707,-0.707L0.508,-0.21L1,0L0.508,0.21L0.707,0.707L0.21,0.508L0,1L-0.21,0.508L-0.707,0.707L-0.508,0.21L-1,0L-0.508,-0.21L-0.707,-0.707L-0.21,-0.508Z"]},
              "legend": {"title": "Legend", "orient": "none", "legendX": 545, "legendY": 10, "padding": 10, "strokeColor": "#333333", "fillColor": "white", "titleFont": "DejaVu Serif", "titleFontSize": 19, "titleFontWeight": "normal", "titleColor": "black", "titleAnchor": "end", "titlePadding": 18, "labelFont": "DejaVu Serif", "labelFontSize": 14.5, "labelColor": "black", "labelBaseline": "top", "labelLimit": 300, "labelOffset": 10, "symbolOffset": 2, "symbolSize": 140, "rowPadding": -1.4, "labelExpr": "datum.label === 'hotspring, sea water' ? ['hotspring,\u2800', 'sea water'] : datum.label", "encode": {"symbols": {"update": {"stroke": {"value": "black"}, "strokeWidth": {"value": 2.4}}}, "labels": {"update": {"dy": {"value": -6}}}}}
            }
          }
        }
      ]
    }
  ],
  "resolve": {"scale": {"x": "independent", "y": "independent"}}
}
